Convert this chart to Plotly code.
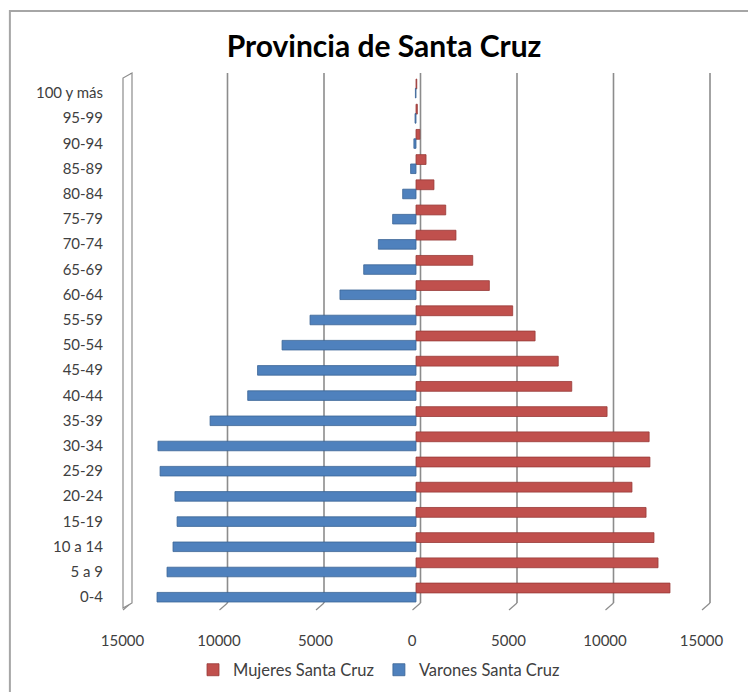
import plotly.graph_objects as go

# ---- data (bottom to top) ----
age_groups = ["0-4", "5 a 9", "10 a 14", "15-19", "20-24", "25-29", "30-34",
              "35-39", "40-44", "45-49", "50-54", "55-59", "60-64", "65-69",
              "70-74", "75-79", "80-84", "85-89", "90-94", "95-99", "100 y más"]
mujeres = [13160, 12540, 12330, 11920, 11190, 12120, 12080, 9900, 8070, 7370,
           6170, 5010, 3800, 2940, 2070, 1540, 930, 520, 200, 70, 40]
varones = [13420, 12900, 12590, 12380, 12490, 13260, 13370, 10670, 8720, 8210,
           6940, 5490, 3940, 2710, 1950, 1210, 690, 280, 110, 50, 30]
tick_vals = [-15000, -10000, -5000, 0, 5000, 10000, 15000]
tick_text = ["15000", "10000", "5000", "0", "5000", "10000", "15000"]

RED = "#C0504D"
BLUE = "#4F81BD"
TXT = "#404040"
FONT = "Lato"

fig = go.Figure()
fig.add_trace(go.Bar(
    y=age_groups, x=mujeres, orientation="h", name="Mujeres Santa Cruz",
    marker=dict(color=RED, line=dict(color="#983A37", width=0.8)),
    width=0.39, offset=0.16,
))
fig.add_trace(go.Bar(
    y=age_groups, x=[-v for v in varones], orientation="h", name="Varones Santa Cruz",
    marker=dict(color=BLUE, line=dict(color="#3B6496", width=0.8)),
    width=0.38, offset=-0.2,
))

shapes = []
# back-wall gridlines with slanted feet
for v in tick_vals:
    shapes.append(dict(type="line", xref="x", xsizemode="pixel", xanchor=v,
                       x0=4.5, x1=4.5, yref="paper", y0=0, y1=1,
                       line=dict(color="#8C8C8C", width=1.6), layer="below"))
    shapes.append(dict(type="line", xref="x", xsizemode="pixel", xanchor=v,
                       x0=4.5, x1=-3.5, yref="paper", y0=0, y1=-0.0132,
                       line=dict(color="#8C8C8C", width=1.2), layer="below"))
# left side wall
shapes.append(dict(type="path", xref="x", xsizemode="pixel", xanchor=tick_vals[0],
                   yref="paper",
                   path="M -3.5,-0.0094 L -3.5,0.9906 L 5.5,1 L 5.5,0 Z",
                   line=dict(color="#8C8C8C", width=1.2), fillcolor="white",
                   layer="below"))
# chart border
shapes.append(dict(type="rect", xref="paper", yref="paper",
                   x0=-0.186, x1=1.2, y0=-0.3, y1=1.117,
                   line=dict(color="#A6A6A6", width=2), layer="below"))

fig.update_layout(
    width=748, height=692,
    paper_bgcolor="white", plot_bgcolor="white",
    margin=dict(l=120, r=36, t=73, b=89, autoexpand=False),
    barmode="overlay",
    font=dict(family=FONT, color=TXT, size=15),
    title=dict(text="Provincia de Santa Cruz", x=384/748, xanchor="center",
               xref="container", y=1 - 46/692, yanchor="middle", yref="container",
               font=dict(family=FONT, size=30, color="black", weight="bold")),
    xaxis=dict(range=[-15337, 15337], tickvals=tick_vals, ticktext=tick_text,
               showgrid=False, zeroline=False, showline=False, automargin=False,
               ticks="outside", ticklen=24, tickcolor="rgba(0,0,0,0)",
               ticklabelshift=-4, tickfont=dict(size=15, color=TXT)),
    yaxis=dict(range=[-0.24, 20.79], showgrid=False, zeroline=False, showline=False,
               automargin=False,
               ticks="outside", ticklen=13, tickcolor="rgba(0,0,0,0)",
               tickfont=dict(size=15, color=TXT)),
    legend=dict(orientation="h", x=379/748, xanchor="center", xref="container",
                y=1 - 670/692, yanchor="middle", yref="container",
                font=dict(size=16.5, color=TXT), bgcolor="rgba(0,0,0,0)",
                itemwidth=30),
    shapes=shapes,
    showlegend=True,
)

fig.write_html("out.html", config={"displayModeBar": False},
               post_script="document.body.style.margin='0';document.body.style.overflow='hidden';")
